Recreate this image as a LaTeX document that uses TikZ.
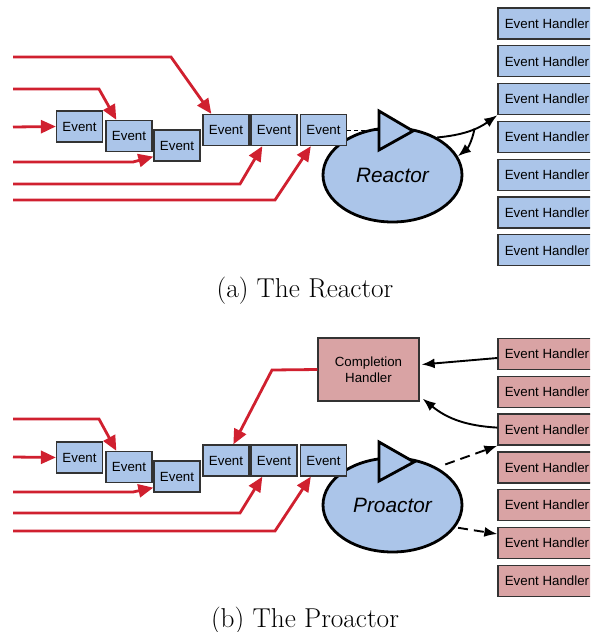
\documentclass[tikz,border=0pt]{standalone}
\usepackage{fontspec}
\setsansfont{Liberation Sans}
\usepackage{tikz}
\usetikzlibrary{shapes.geometric,arrows.meta}
\definecolor{evblue}{HTML}{ABC5E9}
\definecolor{hdpink}{HTML}{D9A3A4}
\definecolor{flowred}{HTML}{D0202F}
\definecolor{boxline}{HTML}{333333}

\begin{document}
\begin{tikzpicture}[x=1pt,y=-1pt,
        evbox/.style={draw=boxline,line width=1.3pt,fill=evblue,minimum width=46pt,minimum height=31pt,inner sep=0pt,font=\sffamily\fontsize{13.3}{15.5}\selectfont},
        hdbox/.style={evbox,minimum width=98pt},
        pinkbox/.style={hdbox,fill=hdpink},
        loopnode/.style={ellipse,draw,line width=2.8pt,fill=evblue,minimum width=139pt,minimum height=94pt,inner sep=0pt,font=\sffamily\itshape\fontsize{20.8}{24}\selectfont},
        redflow/.style={draw=flowred,line width=2.8pt,line join=miter,-{Triangle[length=15pt,width=13pt]}},
        blackflow/.style={line width=1.9pt,-{Latex[length=13pt,width=10pt]}},
        subcap/.style={font=\fontsize{27.3}{32}\selectfont}]
            \path[use as bounding box] (0,0) rectangle (590,632);
            \clip (0,0) rectangle (590,632);
            % (a) the reactor
            \node[loopnode] (reactor) at (392.5,175) {Reactor};
            \draw[line width=2.8pt,fill=evblue,line join=miter] (379,111)--(379,150)--(413,131)--cycle;
            \node[evbox] (e1) at (79.5,126.5) {Event};
            \node[evbox] (e2) at (129,136) {Event};
            \node[evbox] (e3) at (177,145.5) {Event};
            \node[evbox] (e4) at (226,130) {Event};
            \node[evbox] (e5) at (274,130) {Event};
            \node[evbox] (e6) at (323.5,130) {Event};
            \foreach \i in {1,...,7}
                \node[hdbox] (h\i) at (547,{23.5+37.8*(\i-1)}) {Event Handler};
            \draw[dashed,dash pattern=on 4pt off 3pt,line width=0.9pt] (e6.east)--(379,130);
            \draw[redflow] (13,57)--(171,57)--([xshift=9pt]e4.north west);
            \draw[redflow] (13,89)--(99,89)--([xshift=11pt]e2.north west);
            \draw[redflow] (13,127)--(e1.west);
            \draw[redflow] (13,162)--(133,162)--([yshift=5pt]e3.south west);
            \draw[redflow] (13,184)--(240,184)--([xshift=12pt]e5.south west);
            \draw[redflow] (13,200)--(275,200)--([xshift=11pt]e6.south west);
            \draw[blackflow] (reactor.40) to[bend right=15] coordinate[pos=0.6] (fork) (h3.south west);
            \draw[blackflow] (fork) to[bend left=20] (reactor.16);
            \node[subcap] (capa) at (305,291) {(a) The Reactor};
            % (b) the proactor
            \node[loopnode] (proactor) at (392.5,505) {Proactor};
            \draw[line width=2.8pt,fill=evblue,line join=miter] (379,442)--(379,481)--(414,462)--cycle;
            \node[evbox] (f1) at (79.5,457.5) {Event};
            \node[evbox] (f2) at (129,467) {Event};
            \node[evbox] (f3) at (177,476.5) {Event};
            \node[evbox] (f4) at (226,460.5) {Event};
            \node[evbox] (f5) at (274,460.5) {Event};
            \node[evbox] (f6) at (323.5,460.5) {Event};
            \foreach \i in {1,...,7}
                \node[pinkbox] (g\i) at (547,{354+37.8*(\i-1)}) {Event Handler};
            \node[pinkbox,minimum width=101pt,minimum height=63pt,align=center] (done) at (368.5,369.5) {Completion\\Handler};
            \draw[redflow] (13,419)--(99,419)--([xshift=11pt]f2.north west);
            \draw[redflow] (13,457)--(f1.west);
            \draw[redflow] (13,492)--(133,492)--([yshift=5pt]f3.south west);
            \draw[redflow] (13,513)--(240,513)--([xshift=12pt]f5.south west);
            \draw[redflow] (13,531)--(275,531)--([xshift=11pt]f6.south west);
            \draw[redflow] (done.west)--(272,370)--([xshift=31pt]f4.north west);
            \draw[blackflow] ([yshift=-4pt]g1.west)--([yshift=5pt,xshift=2pt]done.east);
            \draw[blackflow] ([yshift=2pt]g3.west) to[bend left=18] ([xshift=3pt,yshift=3pt]done.south east);
            \draw[blackflow,dash pattern=on 10pt off 6pt] ([shift={(8pt,3pt)}]proactor.40)--(g3.south west);
            \draw[blackflow,dash pattern=on 10pt off 6pt] ([xshift=3pt]proactor.-20)--([yshift=9pt]g6.west);
            \node[subcap] (capb) at (305,621) {(b) The Proactor};
        \end{tikzpicture}
\end{document}
